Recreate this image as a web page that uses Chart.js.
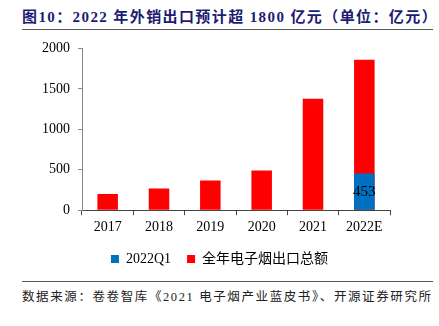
<!DOCTYPE html>
<html><head><meta charset="utf-8">
<script src="https://cdn.jsdelivr.net/npm/chart.js@4/dist/chart.umd.min.js"></script>
<style>
html,body{margin:0;padding:0;background:#fff;}
body{width:439px;height:326px;position:relative;overflow:hidden;font-family:"Liberation Serif","Noto Sans CJK SC",serif;}
#title{position:absolute;left:22px;top:5px;font-size:15px;font-weight:bold;color:#1c1c72;white-space:nowrap;letter-spacing:1.4px;}
.rule{position:absolute;left:22px;width:411px;height:1px;background:#555;}
#src{position:absolute;left:22px;top:286px;font-size:12.5px;color:#222;white-space:nowrap;letter-spacing:1.6px;}
#wrap{position:absolute;left:0;top:32px;width:439px;height:248px;}
</style></head>
<body>
<div id="title">图10：2022 年外销出口预计超 1800 亿元（单位：亿元）</div>
<div class="rule" style="top:29px"></div>
<div id="wrap"><canvas id="c"></canvas></div>
<div class="rule" style="top:281px"></div>
<div id="src">数据来源：卷卷智库《2021 电子烟产业蓝皮书》、开源证券研究所</div>
<script>
const categories = ["2017","2018","2019","2020","2021","2022E"];
const q1Values = [null,null,null,null,null,453];
const totalValues = [200,268,367,490,1379,1860];
const yTicks = [0,500,1000,1500,2000];

const labelPlugin = {
  id:'lbl',
  afterLayout(chart){
    const lg = chart.legend;
    if(lg){ lg.left = 0; lg.right = chart.width; lg.width = chart.width; lg.top -= 4; lg.bottom -= 4; }
  },
  afterDatasetsDraw(chart){
    const ctx = chart.ctx;
    const meta = chart.getDatasetMeta(0);
    meta.data.forEach((bar,i)=>{
      const v = q1Values[i];
      if(v==null) return;
      ctx.save();
      ctx.font = '15px "Liberation Serif"';
      ctx.fillStyle = '#000';
      ctx.textAlign='center';ctx.textBaseline='middle';
      ctx.fillText(String(v), bar.x, (bar.y+bar.base)/2);
      ctx.restore();
    });
  }
};

new Chart(document.getElementById('c'),{
  type:'bar',
  data:{labels:categories,datasets:[
    {label:'2022Q1',data:q1Values,backgroundColor:'#0070C0',barPercentage:0.8,categoryPercentage:0.5},
    {label:'全年电子烟出口总额',data:totalValues,backgroundColor:'#FF0000',barPercentage:0.8,categoryPercentage:0.5}
  ]},
  options:{
    responsive:true,maintainAspectRatio:false,animation:false,
    layout:{padding:{left:0,right:49,top:8,bottom:0}},
    plugins:{
      legend:{position:'bottom',labels:{boxWidth:8,boxHeight:8,padding:16,color:'#000',font:{size:14,family:'"Liberation Serif","Noto Sans CJK SC"'}}},
      tooltip:{enabled:false}
    },
    scales:{
      x:{stacked:true,
        grid:{display:true,drawOnChartArea:false,drawTicks:true,tickLength:5,color:'#444',offset:true},
        border:{color:'#444'},
        ticks:{color:'#000',font:{size:14,family:'"Liberation Serif"'},padding:4}},
      y:{stacked:false,min:0,max:2000,
        afterBuildTicks(s){s.ticks=yTicks.map(v=>({value:v}));},
        afterFit(s){s.width=82;},
        grid:{display:true,drawOnChartArea:false,tickLength:4,color:'#888'},
        border:{color:'#888'},
        ticks:{color:'#000',font:{size:14,family:'"Liberation Serif"'},padding:8,callback:(v)=>String(v)}}
    }
  },
  plugins:[labelPlugin]
});
</script>
</body></html>
